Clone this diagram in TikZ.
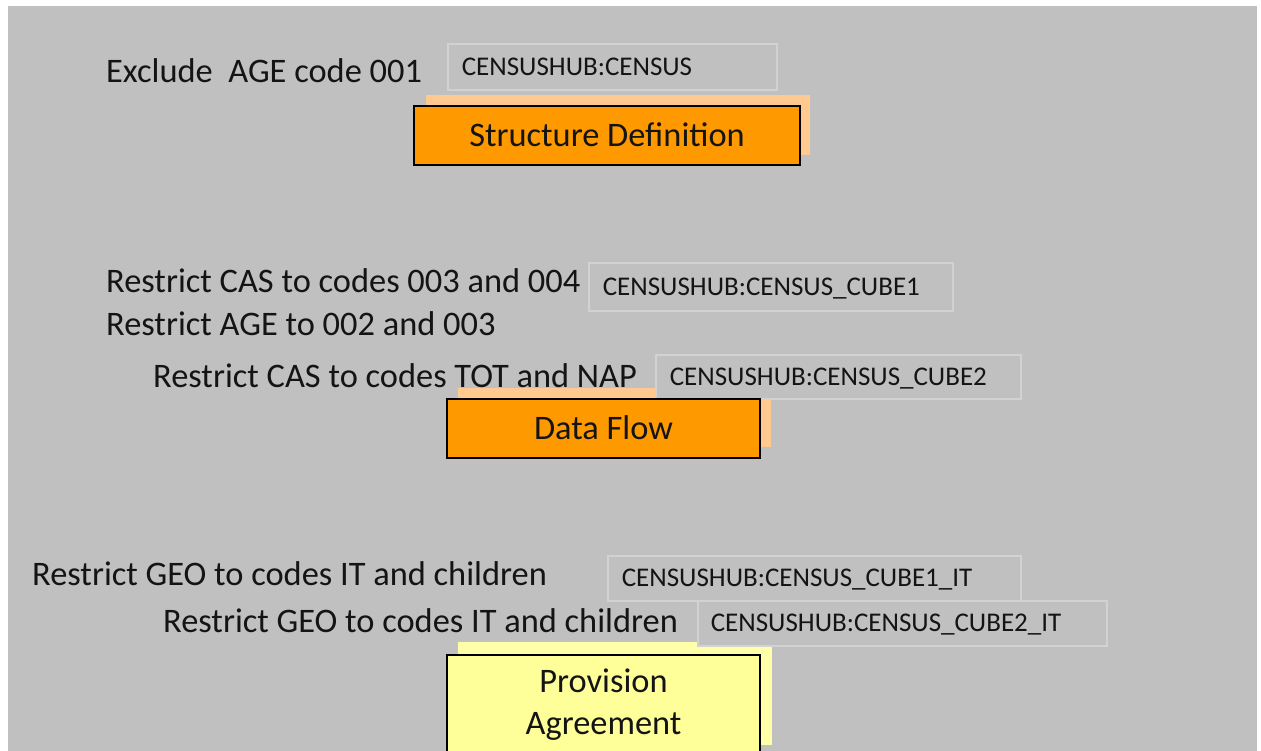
\documentclass[tikz,border=0pt]{standalone}
\usepackage{fontspec}
\setmainfont{Carlito}
\definecolor{bg}{HTML}{C0C0C0}
\definecolor{idedge}{HTML}{D2D2D2}
\definecolor{orangebox}{HTML}{FF9900}
\definecolor{orangeshadow}{HTML}{FFC990}
\definecolor{yellowbox}{HTML}{FFFF99}
\definecolor{yellowshadow}{HTML}{FFFFAA}
\definecolor{ink}{HTML}{141414}
\tikzset{
  note/.style={anchor=base west, inner sep=0pt, text=ink, font=\fontsize{34.4}{40}\selectfont},
  idbox/.style={anchor=north west, draw=idedge, line width=1.6pt, fill=bg, inner xsep=14pt, inner ysep=0pt,
    text=ink, font=\fontsize{27}{30}\selectfont, align=left, text height=17pt, text depth=0pt},
  mainbox/.style={draw=black, line width=2pt, inner sep=0pt, text=ink,
    font=\fontsize{34.4}{42}\selectfont, align=center},
}
\begin{document}
\begin{tikzpicture}[x=1pt,y=-1pt]
\useasboundingbox (0,0) rectangle (1261,751);
\fill[white] (0,0) rectangle (1261,751);
\fill[bg] (8,6) rectangle (1257,751);

% shadows
\fill[orangeshadow] (426,95) rectangle (810,155);
\fill[orangeshadow] (458,388) rectangle (771,447);
\fill[yellowshadow] (458,642) rectangle (772,745);

% notes
\node[note] (n1) at (106,83) {Exclude\ \ AGE code 001};
\node[note] (n2) at (106,293) {Restrict CAS to codes 003 and 004};
\node[note] (n3) at (106,335) {Restrict AGE to 002 and 003};
\node[note] (n4) at (153,387) {Restrict CAS to codes TOT and NAP};
\node[note] (n5) at (32,585) {Restrict GEO to codes IT and children};
\node[note] (n6) at (163,632) {Restrict GEO to codes IT and children};

% identifier boxes
\node[idbox, minimum width=329pt, minimum height=46pt, text width=301pt] (id1) at (447,43) {CENSUSHUB:CENSUS};
\node[idbox, minimum width=364pt, minimum height=48pt, text width=336pt] (id2) at (588,262) {CENSUSHUB:CENSUS\_CUBE1};
\node[idbox, minimum width=365pt, minimum height=44pt, text width=337pt] (id3) at (655,354) {CENSUSHUB:CENSUS\_CUBE2};
\node[idbox, minimum width=413pt, minimum height=45pt, text width=385pt] (id4) at (607,555) {CENSUSHUB:CENSUS\_CUBE1\_IT};
\node[idbox, minimum width=409pt, minimum height=45pt, text width=383pt, inner xsep=13pt] (id5) at (697,600) {CENSUSHUB:CENSUS\_CUBE2\_IT};

% main boxes
\node[mainbox, fill=orangebox, minimum width=386pt, minimum height=59pt, text height=22pt, text depth=0pt] (sd) at (607,135.5) {Structure Definition};
\node[mainbox, fill=orangebox, minimum width=313pt, minimum height=59pt, text height=22pt, text depth=0pt] (df) at (603.5,428.5) {Data Flow};
\node[mainbox, fill=yellowbox, minimum width=313pt, minimum height=100pt] (pa) at (603.5,705) {Provision\\Agreement};
\end{tikzpicture}
\end{document}
